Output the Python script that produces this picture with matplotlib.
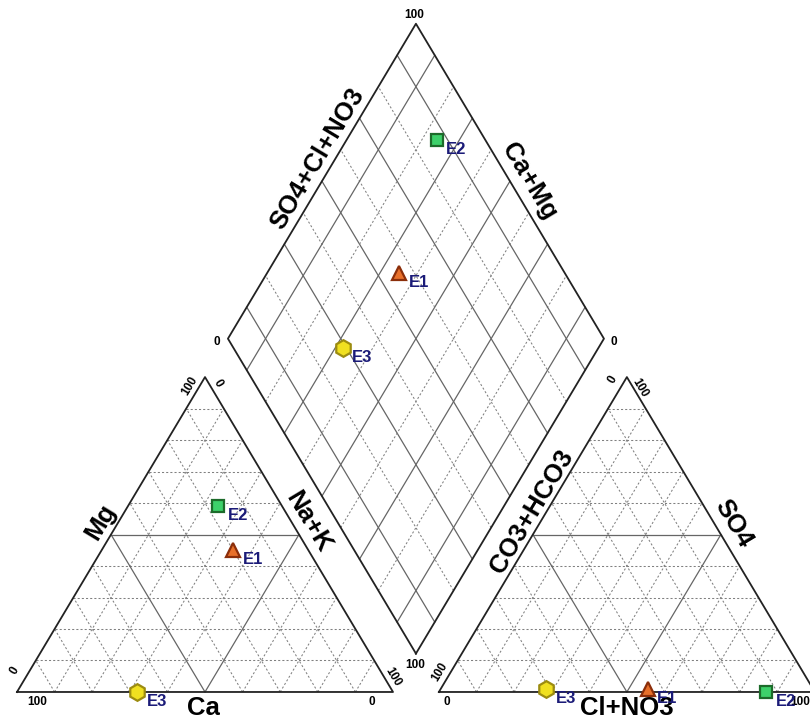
import numpy as np
import matplotlib.pyplot as plt

# Diagrama de Piper - amostras E1, E2, E3 (% meq/L)
amostras = ['E1', 'E2', 'E3']
ca = [20, 17, 68]
mg = [45, 59, 0]
nak = [35, 24, 32]
hco3 = [44, 13, 71]
so4 = [1, 0, 1]
cl = [55, 87, 28]

marcadores = ['^', 's', 'h']
tamanhos = [10, 9, 12]
cores = ['#E8702A', '#3DD16A', '#F0E020']
bordas = ['#8B2E0A', '#1C6B2A', '#9C8C10']

plt.rcParams['font.family'] = ['Liberation Sans', 'DejaVu Sans']

s3 = np.sqrt(3) / 2
g = 0.122            # espaco entre os triangulos
ox = 1 + g           # inicio do triangulo de anions
B = np.array([1 + g / 2, g * s3])   # vertice de baixo do losango
u = np.array([0.5, s3])
v = np.array([-0.5, s3])

fig = plt.figure(figsize=(8.1, 7.19), dpi=100)
ax = fig.add_axes([0, 0, 1, 1])
ax.set_xlim(-0.0452, 2.109)
ax.set_ylim(-0.0743, 1.903)
ax.axis('off')

dash = dict(color='#808080', lw=0.75, linestyle=(0, (2, 2)))
solid = dict(color='#666666', lw=0.9)
borda = dict(color='#222222', lw=1.3)

def linha(p, q, estilo):
    ax.plot([p[0], q[0]], [p[1], q[1]], **estilo)

def triangulo(x0):
    for k in range(1, 10):
        f = k / 10
        est = solid if k == 5 else dash
        linha((x0 + f / 2, f * s3), (x0 + 1 - f / 2, f * s3), est)
        linha((x0 + f, 0), (x0 + f + (1 - f) / 2, (1 - f) * s3), est)
        linha((x0 + 1 - f, 0), (x0 + (1 - f) / 2, (1 - f) * s3), est)
    ax.plot([x0, x0 + 1, x0 + 0.5, x0], [0, 0, s3, 0], **borda)

triangulo(0)
triangulo(ox)

# losango
for k in range(1, 10):
    f = k / 10
    est = solid if k % 2 == 1 else dash
    linha(B + f * u, B + f * u + v, est)
    linha(B + f * v, B + f * v + u, est)
cant = [B, B + u, B + u + v, B + v, B]
ax.plot([p[0] for p in cant], [p[1] for p in cant], **borda)

# pontos
for i in range(len(amostras)):
    t = ca[i] + mg[i] + nak[i]
    a = hco3[i] + so4[i] + cl[i]
    pmg, pna = mg[i] / t, nak[i] / t
    pso4, pcl = so4[i] / a, cl[i] / a
    p1 = (pna + pmg / 2, pmg * s3)
    p2 = (ox + pcl + pso4 / 2, pso4 * s3)
    p3 = B + (pcl + pso4) * u + (1 - pna) * v
    for p in [p1, p2, p3]:
        ax.plot(p[0], p[1], marker=marcadores[i], ms=tamanhos[i], mfc=cores[i],
                mec=bordas[i], mew=1.6, linestyle='none', zorder=5)
        ax.annotate(amostras[i], p, xytext=(7, -7), textcoords='offset points',
                    ha='left', va='center', fontsize=12, color='#1B1B78',
                    fontweight='bold', zorder=6)

def px(x, y):
    return ((x - 17) / 376, (692 - y) / 363.6)

titulo = dict(fontsize=18.5, fontweight='bold', ha='center', va='center')
ax.text(*px(203, 708), 'Ca', **titulo)
ax.text(*px(101, 522), 'Mg', rotation=59, **titulo)
ax.text(*px(308, 522), 'Na+K', rotation=-59, **titulo)
ax.text(*px(627, 708), 'Cl+NO3', **titulo)
ax.text(*px(532, 512), 'CO3+HCO3', rotation=59, **titulo)
ax.text(*px(733, 523), 'SO4', rotation=-59, **titulo)
ax.text(*px(317, 159), 'SO4+Cl+NO3', rotation=59, **titulo)
ax.text(*px(529, 181), 'Ca+Mg', rotation=-59, **titulo)

num = dict(fontsize=8.5, fontweight='bold', ha='center', va='center')
# triangulo de cations
ax.text(*px(37, 702), '100', **num)
ax.text(*px(372, 702), '0', **num)
ax.text(*px(15, 671), '0', rotation=59, **num)
ax.text(*px(190, 386), '100', rotation=59, **num)
ax.text(*px(218, 383), '0', rotation=-59, **num)
ax.text(*px(393, 677), '100', rotation=-59, **num)
# triangulo de anions
ax.text(*px(447, 702), '0', **num)
ax.text(*px(800, 702), '100', **num)
ax.text(*px(440, 672), '100', rotation=59, **num)
ax.text(*px(613, 380), '0', rotation=59, **num)
ax.text(*px(640, 388), '100', rotation=-59, **num)
ax.text(*px(815, 671), '0', rotation=-59, **num)
# losango
ax.text(*px(414, 15), '100', **num)
ax.text(*px(217, 342), '0', **num)
ax.text(*px(614, 342), '0', **num)
ax.text(*px(415, 665), '100', **num)

plt.savefig('out.png', dpi=100)
